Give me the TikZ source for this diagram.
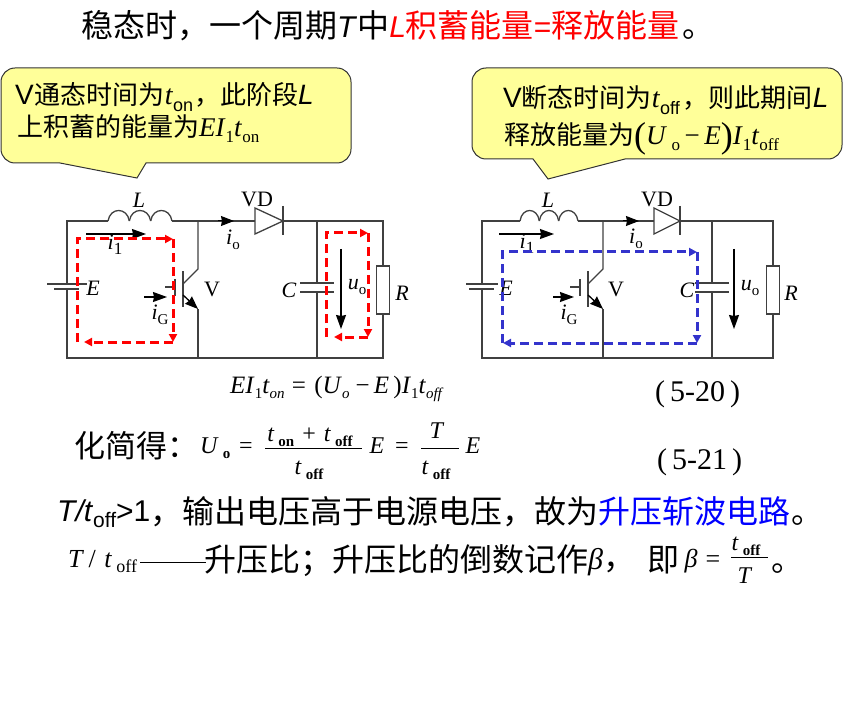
\documentclass[tikz,border=0pt]{standalone}
\usepackage{fontspec}
\setmainfont{Liberation Serif}
\newfontfamily\cjk{Noto Sans CJK SC}
\newfontfamily\ari{Liberation Sans}
\usetikzlibrary{arrows.meta}

\newcommand\fs[1]{\fontsize{#1}{#1}\selectfont}
\newcommand\lowtxt[2]{\raisebox{-.22em}{\fs{#1}#2}}

\definecolor{callfill}{HTML}{FFFF99}
\definecolor{loopblue}{HTML}{3333CC}

\tikzset{
  txt_run/.style={anchor=base west,inner sep=0pt,text=black},
  txt_mid/.style={anchor=base,inner sep=0pt,text=black},
  ckt_lab/.style={inner sep=0pt,text=black,font=\fs{22}},
  wire/.style={draw=black!75,line width=1.3pt},
  call_out/.style={draw=black!80,line width=1pt,fill=callfill},
  cur_arrow/.style={black,line width=1.2pt,-{Stealth[length=14pt,width=10pt,inset=1pt]}},
  frac_bar/.style={black,line width=1pt},
  loop_red/.style={red,line width=3pt,dash pattern=on 9pt off 5pt,-{Stealth[length=8pt,width=8pt,inset=0pt]}},
  loop_blue/.style={loopblue,line width=3pt,dash pattern=on 9pt off 5pt,-{Stealth[length=8pt,width=8pt,inset=0pt]}},
}

\begin{document}
\begin{tikzpicture}[x=1pt,y=-1pt]
  \useasboundingbox (0,0) rectangle (856,711);

  % callouts
  \draw[call_out,rounded corners=14pt]
    (60,163) -- (1,163) -- (1,68) -- (351,68) -- (351,163) [sharp corners] -- (146,163) -- (137,178) -- cycle;
  \draw[call_out,rounded corners=14pt]
    (533,159) -- (472,159) -- (472,68) -- (842,68) -- (842,159) [sharp corners] -- (625,159) -- (548,179) -- cycle;

  % title and callout text
  \node[txt_run] (title) at (81,38) {\fs{32}\cjk 稳态时，一个周期\ari\fs{30}\textit{T}\fs{32}\cjk 中\color{red}\ari\fs{30}\textit{L}\fs{32}\cjk 积蓄能量\ari\fs{30}=\fs{32}\cjk 释放能量\color{black}\hspace{3pt}。};
  \node[txt_run] (on_a) at (15,105) {\fs{26}\ari\fs{28}V\hspace{1pt}\fs{26}\cjk 通态时间为\rmfamily\fs{28}\textit{t}\ari\lowtxt{18}{on}\fs{26}\cjk\hspace{1pt}，此阶段\ari\fs{28}\textit{L}};
  \node[txt_run] (on_b) at (17,137) {\fs{26}\cjk 上积蓄的能量为\rmfamily\fs{27}\textit{EI}\lowtxt{17}{1}\textit{t}\lowtxt{17}{on}};
  \node[txt_run] (off_a) at (503,108) {\ari\fs{28}V\fs{26}\cjk 断态时间为\rmfamily\fs{28}\textit{t}\ari\lowtxt{18}{off}\fs{26}\cjk\hspace{3pt}，则此期间\ari\fs{28}\textit{L}};
  \node[txt_run] (off_b) at (504,145) {\fs{26}\cjk 释放能量为\rmfamily\raisebox{-3pt}{\fs{36}(}\fs{27}\textit{U}\,\lowtxt{17}{o}\,−\,\textit{E}\raisebox{-3pt}{\fs{36})}\fs{27}\textit{I}\lowtxt{17}{1}\textit{t}\lowtxt{17}{off}};

  % two circuits: name/left/coil start/coil end/junction/diode start/diode end/cap/right/battery half
  \foreach \n/\xl/\xa/\xb/\xj/\xd/\xe/\xc/\xr/\hb in {a/67/108/172/198/255/283/317/383/20,b/482/520/578/603/654/680/712/773/16}{
    \coordinate (tl\n) at (\xl,221);
    \coordinate (bl\n) at (\xl,358);
    \coordinate (tr\n) at (\xr,221);
    \coordinate (br\n) at (\xr,358);
    \coordinate (ca\n) at (\xa,221);
    \coordinate (cb\n) at (\xb,221);
    \coordinate (da\n) at (\xd,221);
    \coordinate (db\n) at (\xe,221);
    \coordinate (tj\n) at (\xj,221);
    \coordinate (bj\n) at (\xj,358);
    \coordinate (tc\n) at (\xc,221);
    \coordinate (bc\n) at (\xc,358);

    \draw[wire] (ca\n) -- (tl\n) -- (\xl,284);
    \draw[wire] (\xl,289) -- (bl\n) -- (br\n) -- (\xr,314);
    \draw[wire] (cb\n) -- (da\n);
    \draw[wire] (db\n) -- (tr\n) -- (\xr,266);
    \draw[wire] (\xr-6.5,266) rectangle (\xr+6.5,314);
    % battery
    \draw[wire] (\xl-\hb,284) -- (\xl+\hb,284);
    \draw[wire] (\xl-13,289) -- (\xl+12,289);
    % inductor
    \pgfmathsetmacro\cw{(\xb-\xa)/3}
    \foreach \i in {0,1,2}{
      \draw[wire] (\xa+\i*\cw,221) .. controls (\xa+\i*\cw+.1*\cw,207) and (\xa+\i*\cw+.9*\cw,207) .. (\xa+\i*\cw+\cw,221);
    }
    % diode
    \draw[wire] (\xd,208) -- (\xd,234) -- (db\n) -- cycle;
    \draw[wire] (\xe,206) -- (\xe,235);
    \draw[black,line width=1pt,-{Stealth[length=13pt,width=10pt,inset=1pt]}] (\xj+20,221) -- (\xj+36,221);
    % capacitor
    \draw[wire] (tc\n) -- (\xc,283);
    \draw[wire] (\xc,292) -- (bc\n);
    \draw[wire] (\xc-17,283) -- (\xc+17,283);
    \draw[wire] (\xc-17,292) -- (\xc+17,292);
    % transistor
    \draw[wire] (tj\n) -- (\xj,269) -- (\xj-15,284);
    \draw[wire] (\xj-15,271) -- (\xj-15,307);
    \draw[wire] (\xj-33,287) -- (\xj-23,287);
    \draw[wire] (\xj-23,279) -- (\xj-23,296);
    \draw[black,line width=1.3pt,-{Stealth[length=13pt,width=10pt,inset=1pt]}] (\xj-15,295) -- (\xj,309);
    \draw[wire] (\xj,309) -- (bj\n);
  }

  % current and voltage arrows
  \foreach \xs/\ys/\xt/\yt in {86/234/146/234,144/297/167/297,341/249/341/329,499/234/554/234,553/297/574/297,734/249/734/329}{
    \draw[cur_arrow] (\xs,\ys) -- (\xt,\yt);
  }

  % circuit labels
  \foreach \px/\py/\Name/\Txt in {
    139/200/la/{\textit{L}},257/199/vda/{VD},115/245/ia/{\textit{i}\lowtxt{17}{1}},233/240/ioa/{\textit{i}\lowtxt{15}{o}},
    93/288/ea/{\textit{E}},212/289/va/{V},160/315/iga/{\textit{i}\lowtxt{15}{G}},289/290/cpa/{\textit{C}},357/287/ua/{\textit{u}\lowtxt{15}{o}},402/293/ra/{\textit{R}},
    548/200/lb/{\textit{L}},657/199/vdb/{VD},527/244/ib/{\textit{i}\lowtxt{17}{1}},636/239/iob/{\textit{i}\lowtxt{15}{o}},
    506/288/eb/{\textit{E}},616/289/vb/{V},569/315/igb/{\textit{i}\lowtxt{15}{G}},687/290/cpb/{\textit{C}},750/288/ub/{\textit{u}\lowtxt{15}{o}},791/293/rb/{\textit{R}}}{
    \node[ckt_lab] (lab\Name) at (\px,\py) {\Txt};
  }

  % current loops
  \coordinate (ra1) at (77,342);
  \coordinate (ra2) at (77,239);
  \coordinate (ra3) at (173,239);
  \coordinate (ra4) at (173,342);
  \coordinate (ra5) at (84,342);
  \draw[loop_red] (ra1) -- (ra2) -- (ra3);
  \draw[loop_red] (ra3) -- (ra4);
  \draw[loop_red] (ra4) -- (ra5);
  \coordinate (rb1) at (326,337);
  \coordinate (rb2) at (326,233);
  \coordinate (rb3) at (368,233);
  \coordinate (rb4) at (368,337);
  \coordinate (rb5) at (334,337);
  \draw[loop_red] (rb1) -- (rb2) -- (rb3);
  \draw[loop_red] (rb3) -- (rb4);
  \draw[loop_red] (rb4) -- (rb5);
  \coordinate (bl1) at (502,343);
  \coordinate (bl2) at (502,252);
  \coordinate (bl3) at (697,252);
  \coordinate (bl4) at (697,343);
  \coordinate (bl5) at (503,343);
  \draw[loop_blue] (bl1) -- (bl2) -- (bl3);
  \draw[loop_blue] (bl3) -- (bl4);
  \draw[loop_blue] (bl4) -- (bl5);

  % equations
  \node[txt_run] (eq_a) at (230,393) {\fs{25}\textit{EI}\lowtxt{15}{1}\textit{t}\lowtxt{15}{\textit{on}}\hspace{3pt}\,=\,\,(\textit{U}\lowtxt{15}{\textit{o}}\hspace{2pt}\,−\,\textit{E}\,)\textit{I}\lowtxt{15}{1}\textit{t}\lowtxt{15}{\textit{off}}};
  \node[txt_run] (eq_n) at (655,401) {\fs{30}(\,5-20\,)};
  \node[txt_run] (eq_m) at (657,469) {\fs{30}(\,5-21\,)};
  \node[txt_run] (simp) at (74,457) {\fs{31}\cjk 化简得：};
  \node[txt_run] (uo) at (200,453) {\fs{24}\textit{U}\,\lowtxt{15}{\textbf{o}}};
  \node[txt_mid] (eq1) at (246,453) {\fs{24}=};
  \node[txt_mid] (nm1) at (310,441) {\fs{24}\textit{t}\,\lowtxt{15}{\textbf{on}}\,\,+\,\,\textit{t}\,\lowtxt{15}{\textbf{off}}};
  \node[txt_mid] (dn1) at (309,474) {\fs{24}\textit{t}\,\lowtxt{15}{\textbf{off}}};
  \draw[frac_bar] (265,448) -- (362,448);
  \node[txt_mid] (ea1) at (377,453) {\fs{24}\textit{E}};
  \node[txt_mid] (eq2) at (402,453) {\fs{24}=};
  \node[txt_mid] (nm2) at (437,438) {\fs{24}\textit{T}};
  \node[txt_mid] (dn2) at (436,474) {\fs{24}\textit{t}\,\lowtxt{15}{\textbf{off}}};
  \draw[frac_bar] (421,448) -- (459,448);
  \node[txt_mid] (ea2) at (473,453) {\fs{24}\textit{E}};

  % bottom lines
  \node[txt_run] (ln_a) at (57,523) {\raisebox{2pt}{\ari\fs{30}\textit{T/t}\lowtxt{21}{off}>1}\cjk\fs{32}，输出电压高于电源电压，故为\color{blue}升压斩波电路\color{black}\hspace{1pt}。};
  \node[txt_run] (ln_b) at (68,567) {\fs{26}\textit{T}\,/\,\,\textit{t}\,\lowtxt{18}{off}};
  \draw[frac_bar] (140,562) -- (206,562);
  \node[txt_run] (ln_c) at (204,571) {\fs{32}\cjk 升压比；升压比的倒数记作};
  \node[txt_run] (ln_d) at (588,569) {\fs{30}\textit{β}\fs{32}\cjk ，};
  \node[txt_run] (ln_e) at (647,571) {\fs{32}\cjk 即};
  \node[txt_mid] (bt) at (691,567) {\fs{26}\textit{β}};
  \node[txt_mid] (eq3) at (713,567) {\fs{26}=};
  \node[txt_mid] (nm3) at (746,550) {\fs{24}\textit{t}\,\lowtxt{15}{\textbf{off}}};
  \node[txt_mid] (dn3) at (745,583) {\fs{24}\textit{T}};
  \draw[frac_bar] (731,557) -- (768,557);
  \node[txt_run] (dot) at (771,571) {\fs{32}\cjk 。};
\end{tikzpicture}
\end{document}
